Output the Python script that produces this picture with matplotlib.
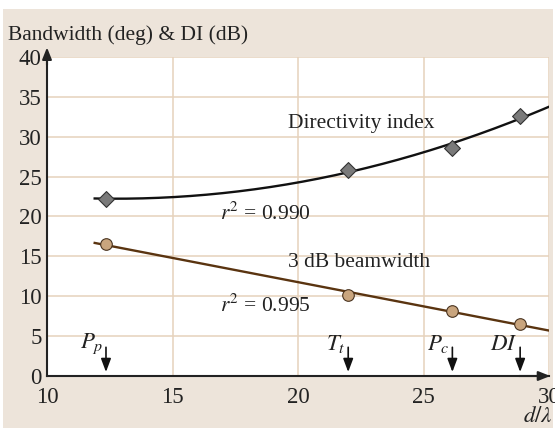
import numpy as np
import matplotlib
matplotlib.use("Agg")
import matplotlib.pyplot as plt
from matplotlib.patches import Rectangle

# Data
di_x = [12.35, 22.0, 26.15, 28.85]
di_y = [22.2, 25.85, 28.65, 32.55]
bw_x = [12.35, 22.0, 26.15, 28.85]
bw_y = [16.55, 10.2, 8.1, 6.55]
marker_x = [12.35, 22.0, 26.15, 28.85]
marker_labels = ["P", "T", "P", "DI"]
marker_subs = ["p", "t", "c", ""]
xticks = [10, 15, 20, 25, 30]
yticks = [0, 5, 10, 15, 20, 25, 30, 35, 40]

plt.rcParams['font.family'] = ['Liberation Serif', 'DejaVu Serif']
plt.rcParams['mathtext.fontset'] = 'stix'

W, H = 555, 428
fig = plt.figure(figsize=(W/100, H/100), dpi=100)
fig.patch.set_facecolor('white')
fig.patches.append(Rectangle((3/W, 0), 550/W, 1 - 9/H, transform=fig.transFigure,
                             facecolor='#ede4da', edgecolor='none', zorder=-10))

ax = fig.add_axes([47/W, 1 - 376/H, (549-47)/W, (376-57)/H])
ax.set_facecolor('white')
ax.set_xlim(10, 30)
ax.set_ylim(0, 40)

grid_c = '#e6d2bc'
for x in xticks[1:]:
    ax.axvline(x, color=grid_c, lw=1.1, zorder=0)
for y in yticks[1:]:
    ax.axhline(y, color=grid_c, lw=1.1, zorder=0)

for s in ['top', 'right']:
    ax.spines[s].set_visible(False)
for s in ['left', 'bottom']:
    ax.spines[s].set_color('#222222')
    ax.spines[s].set_linewidth(1.5)

# axis arrows
ax.annotate('', xy=(10, 41.2), xytext=(10, 39.0),
            arrowprops=dict(arrowstyle='-|>,head_length=0.7,head_width=0.28', color='#222222', lw=1.5,
                            shrinkA=0, shrinkB=0),
            annotation_clip=False)
ax.annotate('', xy=(30.05, 0), xytext=(28.8, 0),
            arrowprops=dict(arrowstyle='-|>,head_length=0.7,head_width=0.28', color='#222222', lw=1.5,
                            shrinkA=0, shrinkB=0),
            annotation_clip=False)

ax.set_xticks(xticks)
ax.set_yticks(yticks)
ax.tick_params(length=0, labelsize=16.5, colors='#222222')
ax.tick_params(axis='y', pad=4)
ax.tick_params(axis='x', pad=8)

# fits
xx = np.linspace(11.9, 30, 200)
p2 = np.polyfit(di_x, di_y, 2)
ax.plot(xx, np.polyval(p2, xx), color='#111111', lw=1.7, zorder=3)
p1 = np.polyfit(bw_x, bw_y, 1)
ax.plot(xx, np.polyval(p1, xx), color='#5a3410', lw=1.7, zorder=3)

ax.scatter(di_x, di_y, marker='D', s=65, facecolor='#7a7a7a', edgecolor='#333333', lw=0.8, zorder=4)
ax.scatter(bw_x, bw_y, marker='o', s=70, facecolor='#c9a57e', edgecolor='#4a3420', lw=0.8, zorder=4)

tc = '#222222'
fs = 15.5
ax.text(19.6, 31.6, 'Directivity index', fontsize=fs, color=tc, va='center')
ax.text(19.6, 14.25, '3 dB beamwidth', fontsize=fs, color=tc, va='center')
ax.text(16.9, 20.4, r'$r^2$ = 0.990', fontsize=fs, color=tc, va='center')
ax.text(16.9, 8.8, r'$r^2$ = 0.995', fontsize=fs, color=tc, va='center')

for x, l, s in zip(marker_x, marker_labels, marker_subs):
    ax.annotate('', xy=(x, 0.5), xytext=(x, 3.6),
                arrowprops=dict(arrowstyle='-|>,head_length=0.8,head_width=0.3', color='#111111', lw=1.2,
                                shrinkA=0, shrinkB=0))
    lab = r'$%s_{%s}$' % (l, s) if s else r'$%s$' % l
    ax.text(x - 0.1, 4.0, lab, fontsize=16.5, color=tc, ha='right', va='center')

fig.text(8/W, 1 - 35/H, 'Bandwidth (deg) & DI (dB)', fontsize=fs, color=tc, va='center', ha='left')
fig.text(553/W, 1 - 416/H, r'$d/\lambda$', fontsize=16.5, color=tc, va='center', ha='right')

fig.savefig('out.png', dpi=100, facecolor=fig.get_facecolor())
